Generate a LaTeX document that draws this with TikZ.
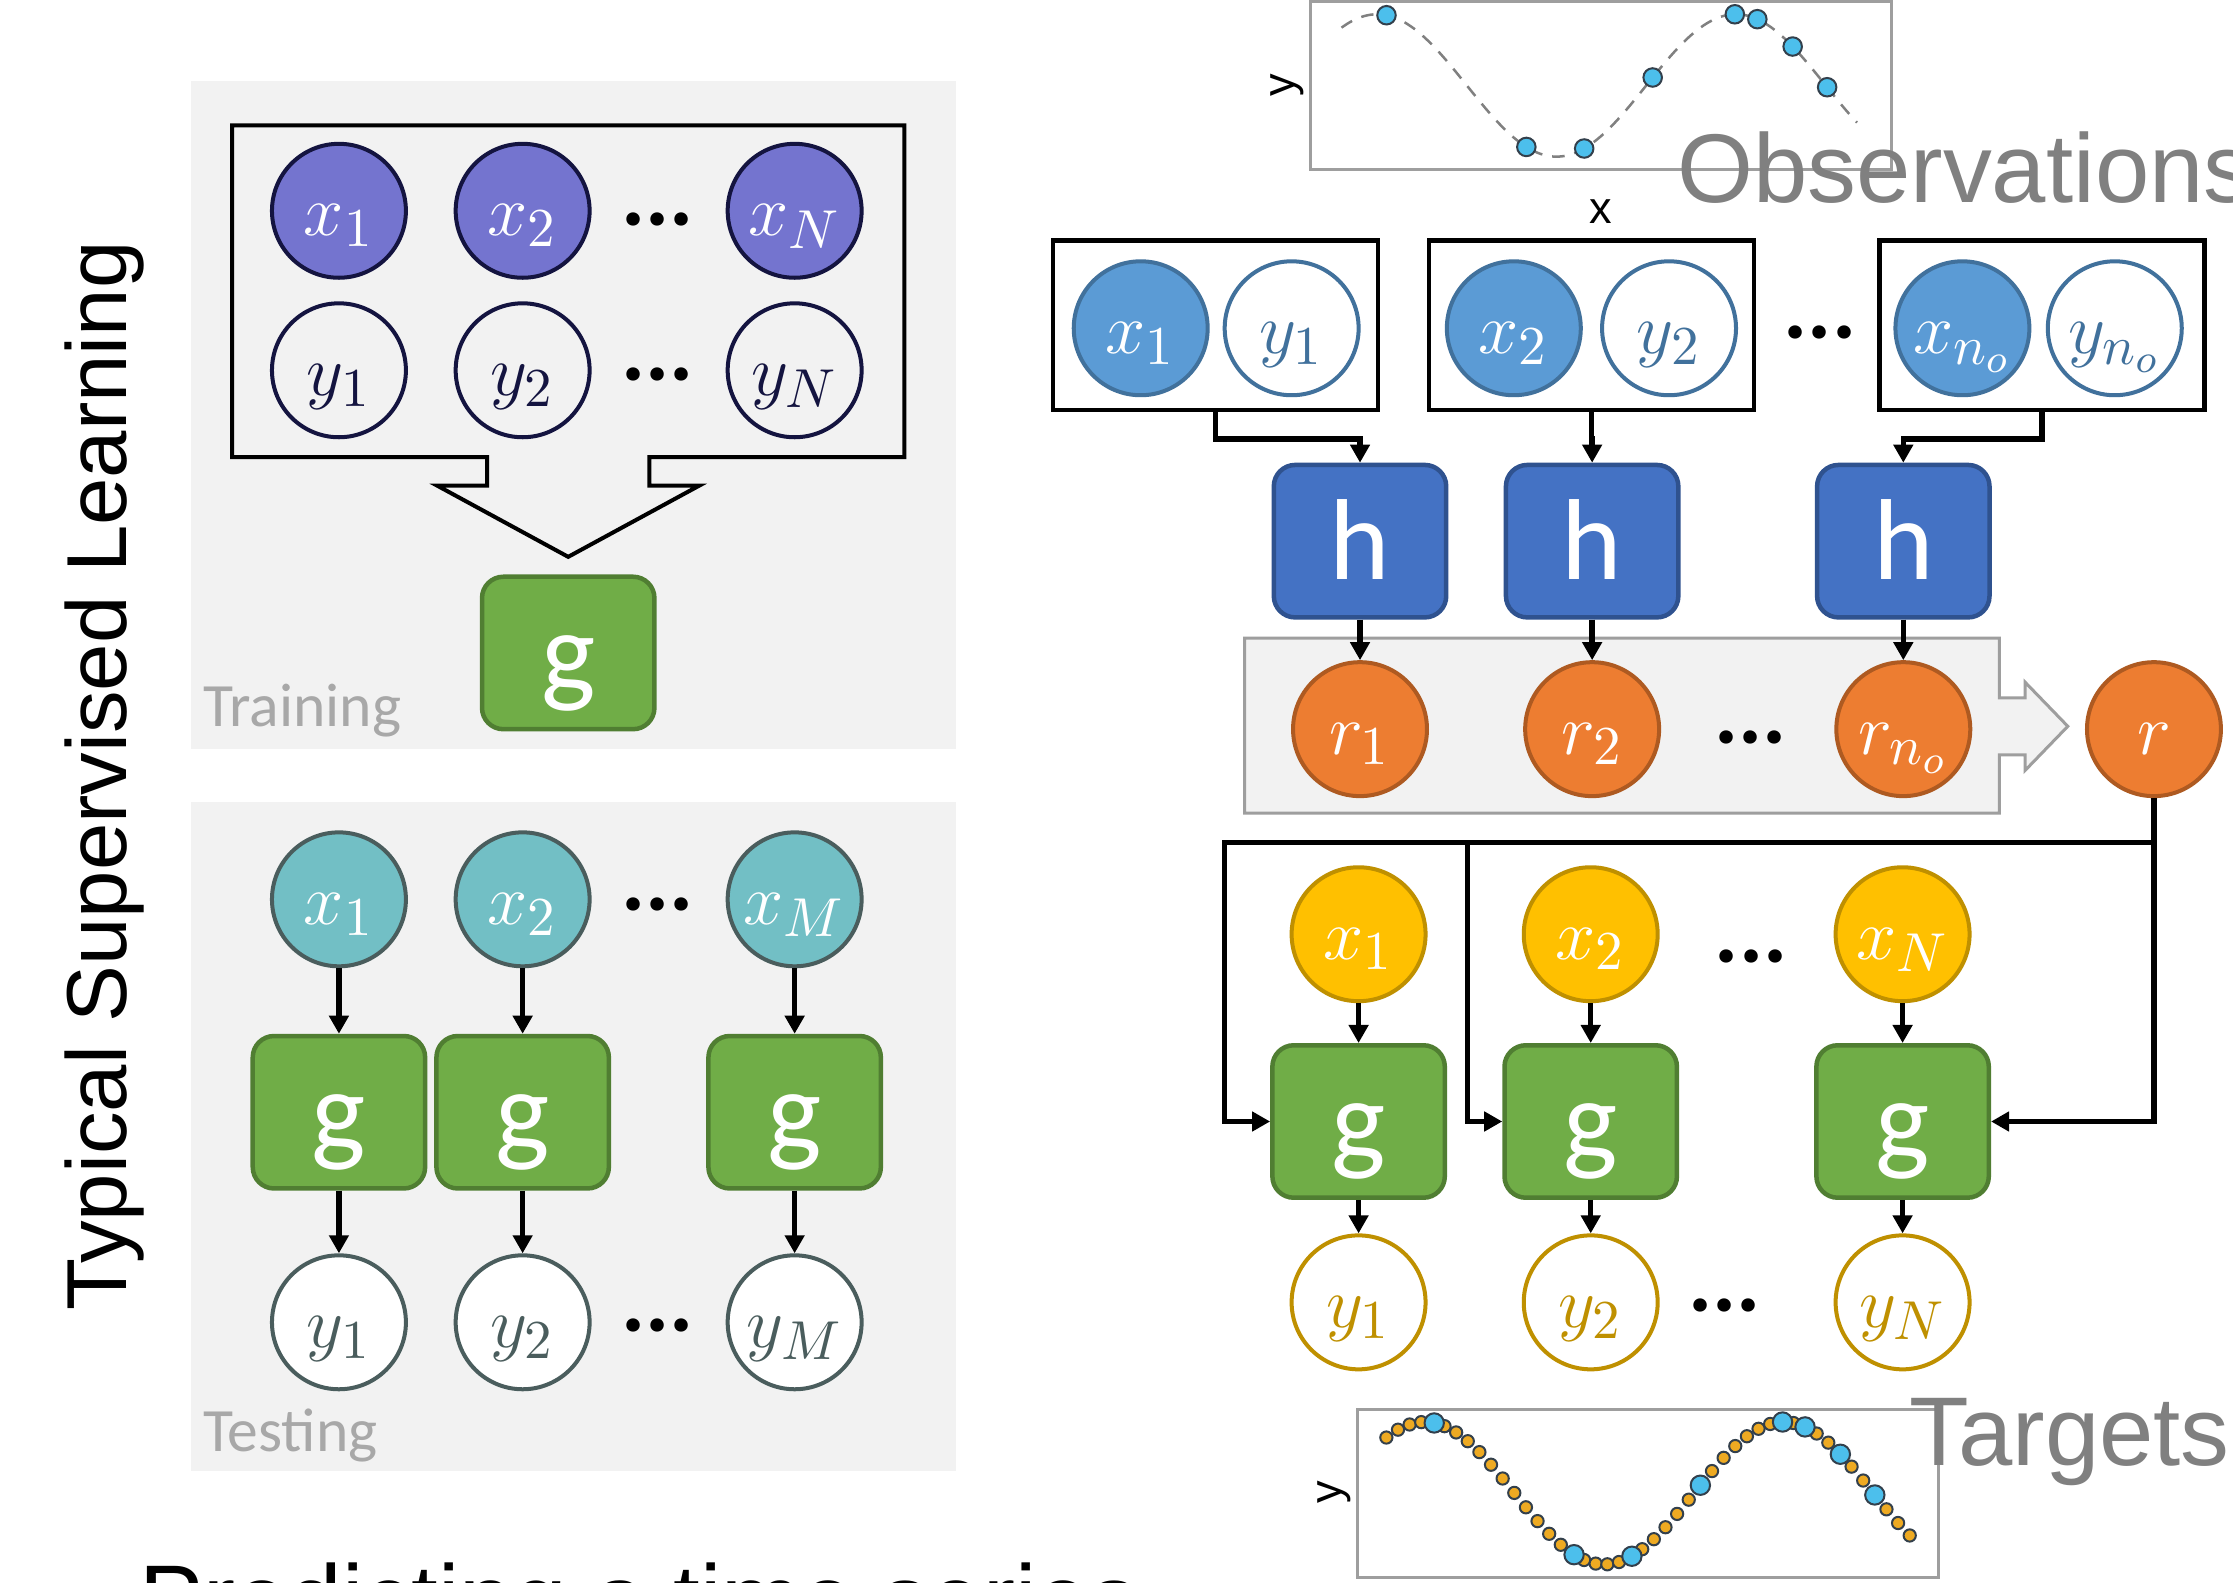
\documentclass[tikz,border=0pt]{standalone}
\usepackage{fontspec}
\usepackage{tikz}
\usetikzlibrary{arrows.meta}
\newfontfamily\calibri{Carlito}
\newfontfamily\arial{Liberation Sans}
\DeclareMathSizes{14}{14}{11}{8}
\definecolor{panel}{rgb}{0.95, 0.95, 0.95}
\definecolor{trainpurple}{rgb}{0.455, 0.455, 0.812}
\definecolor{navy}{rgb}{0.08, 0.08, 0.25}
\definecolor{testteal}{rgb}{0.447, 0.749, 0.773}
\definecolor{slate}{rgb}{0.29, 0.365, 0.365}
\definecolor{ggreen}{rgb}{0.439, 0.678, 0.278}
\definecolor{gline}{rgb}{0.314, 0.494, 0.196}
\definecolor{obsblue}{rgb}{0.357, 0.608, 0.835}
\definecolor{obsline}{rgb}{0.255, 0.443, 0.612}
\definecolor{hblue}{rgb}{0.267, 0.447, 0.769}
\definecolor{hline}{rgb}{0.184, 0.322, 0.561}
\definecolor{reporange}{rgb}{0.929, 0.49, 0.192}
\definecolor{repline}{rgb}{0.682, 0.353, 0.129}
\definecolor{tgtyellow}{rgb}{1, 0.753, 0}
\definecolor{tgtline}{rgb}{0.749, 0.565, 0}
\definecolor{textgray}{rgb}{0.5, 0.5, 0.5}
\definecolor{labelgray}{rgb}{0.66, 0.66, 0.66}
\definecolor{framegray}{rgb}{0.62, 0.62, 0.62}
\definecolor{dotblue}{rgb}{0.3, 0.75, 0.925}
\definecolor{dotyellow}{rgb}{0.933, 0.667, 0.133}
\definecolor{dotrim}{rgb}{0.2, 0.25, 0.3}
\tikzstyle{ball}=[circle, draw, line width=.8pt, minimum size=.94cm, inner sep=0pt, font=\fontsize{14}{16}\selectfont, text height=.4cm, text depth=.05cm]
\tikzstyle{xtrain}=[ball, fill=trainpurple, draw=navy, text=white]
\tikzstyle{ytrain}=[ball, draw=navy, text=navy]
\tikzstyle{xtest}=[ball, fill=testteal, draw=slate, text=white]
\tikzstyle{ytest}=[ball, fill=white, draw=slate, text=slate]
\tikzstyle{xobs}=[ball, fill=obsblue, draw=obsline, text=white]
\tikzstyle{yobs}=[ball, fill=white, draw=obsline, text=obsline]
\tikzstyle{rep}=[ball, fill=reporange, draw=repline, text=white]
\tikzstyle{xtgt}=[ball, fill=tgtyellow, draw=tgtline, text=white]
\tikzstyle{ytgt}=[ball, fill=white, draw=tgtline, text=tgtline]
\tikzstyle{net}=[rectangle, rounded corners=.15cm, line width=.9pt, minimum width=1.21cm, minimum height=1.07cm, inner sep=0pt, text=white, font=\calibri\fontsize{23}{26}\selectfont, text height=.6cm, text depth=.06cm]
\tikzstyle{gnet}=[net, fill=ggreen, draw=gline]
\tikzstyle{hnet}=[net, fill=hblue, draw=hline]
\tikzstyle{ctx}=[rectangle, draw, line width=.9pt, minimum width=2.28cm, minimum height=1.19cm]
\tikzstyle{ellip}=[anchor=base, inner sep=0pt, font=\calibri\bfseries\fontsize{18}{20}\selectfont]
\tikzstyle{arr}=[line width=1.1pt, -{Triangle[length=3.6pt,width=3.8pt]}]
\tikzstyle{frame}=[draw=framegray, line width=.6pt]
\tikzstyle{obspt}=[draw=dotrim, fill=dotblue, line width=.4pt]
\tikzstyle{tgtpt}=[draw=dotrim, fill=dotyellow, line width=.4pt]
\tikzstyle{lbl}=[anchor=base west, inner sep=0pt]

\begin{document}
\begin{tikzpicture}[x=.01cm, y=-.01cm]
\useasboundingbox (0,0) rectangle (1568,1111);
\fill[white] (0,0) rectangle (1568,1111);

	\fill[panel] (134,57) rectangle (671,526);
	\fill[panel] (134,563) rectangle (671,1033);

	\node[rotate=90, anchor=base, inner sep=0pt, font=\arial\fontsize{17}{20}\selectfont] (title) at (89,545) {Typical Supervised Learning};
	\node[lbl, font=\arial\fontsize{19.2}{22}\selectfont] (subtitle) at (97,1146) {Predicting a time series};

	\draw[line width=.8pt] (163,88) -- (635,88) -- (635,321) -- (456,321) -- (456,341) -- (491,341) -- (399,391) -- (307,341) -- (342,341) -- (342,321) -- (163,321) -- cycle;
	\foreach \n/\x/\l in {1/238/1, 2/367/2, 3/558/N}{
		\node[xtrain] (ax\n) at (\x,148) {$x_{\l}$};
		\node[ytrain] (ay\n) at (\x,260) {$y_{\l}$};
	}
	\node[ellip] (adx) at (462,158) {...};
	\node[ellip] (ady) at (462,267) {...};
	\node[gnet] (ag) at (399,458.5) {g};
	\node[lbl, text=labelgray, font=\calibri\fontsize{12.3}{14}\selectfont] (trainlbl) at (142,510) {Training};

	\foreach \n/\x/\l in {1/238/1, 2/367/2, 3/558/M}{
		\node[xtest] (bx\n) at (\x,631.5) {$x_{\l}$};
		\node[gnet] (bg\n) at (\x,781) {g};
		\node[ytest] (by\n) at (\x,928.5) {$y_{\l}$};
		\draw[arr] (bx\n) -- (bg\n);
		\draw[arr] (bg\n) -- (by\n);
	}
	\node[ellip] (bdx) at (462,639.5) {...};
	\node[ellip] (bdy) at (462,935) {...};
	\node[lbl, text=labelgray, font=\calibri\fontsize{12.3}{14}\selectfont] (testlbl) at (142,1019) {Testing};

	\begin{scope}[shift={(920,1)}]
		\draw[frame] (0,0) rectangle (408,118);
		\draw[textgray, line width=.5pt, dash pattern=on 2.5pt off 2pt] plot[domain=22:384, samples=90, smooth] (\x, {59-50*cos(1.428571*(\x-47))});
		\foreach \p in {53.6, 151.8, 192.4, 240.5, 298.2, 314, 338.8, 363}{
			\filldraw[obspt] (\p, {59-50*cos(1.428571*(\p-47))}) circle[radius=6.5];
		}
	\end{scope}
	\node[anchor=base, inner sep=0pt, font=\arial\fontsize{9}{10}\selectfont] (obsx) at (1124,156.6) {x};
	\node[rotate=90, anchor=base, inner sep=0pt, font=\arial\fontsize{9}{10}\selectfont] (obsy) at (909,60) {y};
	\node[lbl, text=textgray, font=\arial\fontsize{19.5}{22}\selectfont] (obslbl) at (1177,142) {Observations};

	\begin{scope}[shift={(953.5,990)}]
		\draw[frame] (0,0) rectangle (408,118);
		\foreach \i in {0,...,45}{
			\pgfmathsetmacro\p{20+\i*8.1667}
			\filldraw[tgtpt] (\p, {58.5-50*cos(1.428571*(\p-47))}) circle[radius=4.3];
		}
		\foreach \p in {53.6, 151.8, 192.4, 240.5, 298.2, 314, 338.8, 363}{
			\filldraw[obspt] (\p, {58.5-50*cos(1.428571*(\p-47))}) circle[radius=6.8];
		}
	\end{scope}
	\node[rotate=90, anchor=base, inner sep=0pt, font=\arial\fontsize{9}{10}\selectfont] (tgty) at (942,1048) {y};
	\node[lbl, text=textgray, font=\arial\fontsize{19.5}{22}\selectfont] (tgtlbl) at (1340,1029) {Targets};

	\foreach \n/\c/\xa/\xb/\h/\l in {1/853.6/801/907/955/1, 2/1117.5/1063/1172/1118/2, 3/1433.8/1378/1485/1336.5/{n_o}}{
		\node[ctx] (ctx\n) at (\c,228.3) {};
		\node[xobs] (ox\n) at (\xa,230.5) {$x_{\l}$};
		\node[yobs] (oy\n) at (\xb,230.5) {$y_{\l}$};
		\node[hnet] (h\n) at (\h,380) {h};
		\draw[arr] (ctx\n.south) -- ++(0,19) -| (h\n.north);
	}
	\node[ellip] (odx) at (1278,237.5) {...};

	\draw[draw=framegray, fill=panel, line width=.6pt] (874,448) -- (1404,448) -- (1404,490) -- (1422,490) -- (1422,479) -- (1452,510) -- (1422,541) -- (1422,530) -- (1404,530) -- (1404,571) -- (874,571) -- cycle;
	\foreach \n/\x/\l in {1/955/1, 2/1118/2, 3/1336.5/{n_o}}{
		\node[rep] (r\n) at (\x,512) {$r_{\l}$};
		\draw[arr] (h\n) -- (r\n);
	}
	\node[rep] (r) at (1512.5,512) {$r$};
	\node[ellip] (rdx) at (1229,522) {...};

	\foreach \n/\x/\l in {1/954/1, 2/1117/2, 3/1336/N}{
		\node[xtgt] (q\n) at (\x,656) {$x_{\l}$};
		\node[gnet] (g\n) at (\x,787.5) {g};
		\node[ytgt] (t\n) at (\x,914.5) {$y_{\l}$};
		\draw[arr] (q\n) -- (g\n);
		\draw[arr] (g\n) -- (t\n);
	}
	\node[ellip] (qdx) at (1229.6,676) {...};
	\node[ellip] (tdx) at (1211,921) {...};

	\coordinate (busL) at (860,591.6);
	\coordinate (busM) at (1030.5,591.6);
	\draw[arr] (r.south) |- (busL) |- (g1.west);
	\draw[arr] (busM) |- (g2.west);
	\draw[arr] (r.south) |- (g3.east);

\end{tikzpicture}
\end{document}
